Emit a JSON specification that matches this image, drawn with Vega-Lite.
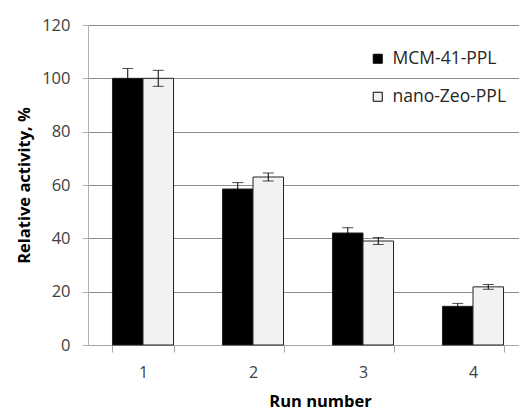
{
  "$schema": "https://vega.github.io/schema/vega-lite/v6.json",
  "width": 431,
  "height": 320,
  "autosize": {"type": "none"},
  "padding": {"left": 88, "top": 25, "right": 0, "bottom": 65},
  "background": "white",
  "config": {
    "view": {"stroke": null},
    "font": "Open Sans"
  },
  "data": {
    "values": [
      {"run": "1", "sample": "MCM-41-PPL", "value": 100, "lo": 96.3, "hi": 103.7},
      {"run": "1", "sample": "nano-Zeo-PPL", "value": 100, "lo": 97, "hi": 103},
      {"run": "2", "sample": "MCM-41-PPL", "value": 58.5, "lo": 56.1, "hi": 60.9},
      {"run": "2", "sample": "nano-Zeo-PPL", "value": 63, "lo": 61.5, "hi": 64.5},
      {"run": "3", "sample": "MCM-41-PPL", "value": 42, "lo": 40, "hi": 44},
      {"run": "3", "sample": "nano-Zeo-PPL", "value": 39, "lo": 37.7, "hi": 40.3},
      {"run": "4", "sample": "MCM-41-PPL", "value": 14.5, "lo": 13.4, "hi": 15.6},
      {"run": "4", "sample": "nano-Zeo-PPL", "value": 21.8, "lo": 20.9, "hi": 22.7}
    ]
  },
  "encoding": {
    "x": {
      "field": "run",
      "type": "ordinal",
      "scale": {"range": [0, 440], "paddingInner": 0.445, "paddingOuter": 0.2225},
      "axis": {
        "title": "Run number",
        "labelAngle": 0,
        "labelFont": "Open Sans",
        "labelFontSize": 16,
        "labelColor": "#404040",
        "labelPadding": 12,
        "tickBand": "extent",
        "tickSize": 7,
        "tickColor": "#a6a6a6",
        "domainColor": "#a6a6a6",
        "titleFont": "Open Sans",
        "titleFontSize": 16.5,
        "titleFontWeight": "bold",
        "titleColor": "#000000",
        "titlePadding": 13,
        "titleX": 232,
        "titleAnchor": "middle"
      }
    },
    "xOffset": {"field": "sample", "type": "nominal"}
  },
  "layer": [
    {
      "mark": {"type": "bar", "stroke": "#222222", "strokeWidth": 1},
      "encoding": {
        "y": {
          "field": "value",
          "type": "quantitative",
          "scale": {"domain": [0, 120]},
          "axis": {
            "title": "Relative activity, %",
            "values": [0, 20, 40, 60, 80, 100, 120],
            "grid": true,
            "gridColor": "#8c8c8c",
            "domainColor": "#b0b0b0",
            "tickColor": "#b0b0b0",
            "tickSize": 6,
            "labelPadding": 12,
            "labelFont": "Open Sans",
            "labelFontSize": 16.5,
            "labelColor": "#404040",
            "titleFont": "Open Sans",
            "titleFontSize": 16.5,
            "titleFontWeight": "bold",
            "titleColor": "#000000",
            "titlePadding": 9
          }
        },
        "color": {
          "field": "sample",
          "type": "nominal",
          "scale": {"domain": ["MCM-41-PPL", "nano-Zeo-PPL"], "range": ["#000000", "#f2f2f2"]},
          "legend": {
            "title": null,
            "orient": "none",
            "legendX": 281,
            "legendY": 25,
            "padding": 0,
            "symbolType": "square",
            "symbolSize": 81,
            "symbolStrokeColor": "#000000",
            "symbolStrokeWidth": 1,
            "labelFont": "Open Sans",
            "labelFontSize": 17.5,
            "labelColor": "#262626",
            "labelOffset": 6,
            "rowPadding": 19
          }
        }
      }
    },
    {
      "mark": {"type": "rule", "color": "#000000", "strokeWidth": 1},
      "encoding": {
        "y": {"field": "lo", "type": "quantitative"},
        "y2": {"field": "hi"}
      }
    },
    {
      "mark": {"type": "tick", "color": "#000000", "thickness": 1, "size": 11},
      "encoding": {"y": {"field": "hi", "type": "quantitative"}}
    },
    {
      "mark": {"type": "tick", "color": "#000000", "thickness": 1, "size": 11},
      "encoding": {"y": {"field": "lo", "type": "quantitative"}}
    }
  ]
}
